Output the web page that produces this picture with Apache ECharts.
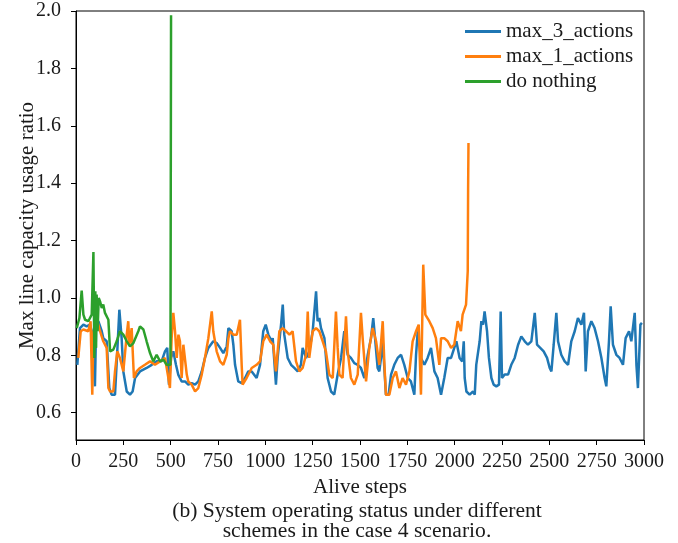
<!DOCTYPE html>
<html><head><meta charset="utf-8">
<script src="https://cdn.jsdelivr.net/npm/echarts@6/dist/echarts.min.js"></script>
<style>html,body{margin:0;padding:0;background:#fff}#c{width:678px;height:543px}</style>
</head><body><div id="c"></div>
<script>
const xTicks = [0,250,500,750,1000,1250,1500,1750,2000,2250,2500,2750,3000];
const yTicks = [0.6,0.8,1.0,1.2,1.4,1.6,1.8,2.0];
const seriesNames = ['max_3_actions','max_1_actions','do nothing'];

const max3Steps = [7,21,39,56,74,88,100,106,118,136,144,162,176,188,206,218,229,241,250,268,285,299,312,338,373,400,426,452,470,482,491,502,514,528,540,558,576,593,611,629,646,664,681,699,725,743,761,778,796,805,822,831,840,857,875,893,910,928,954,972,989,1002,1016,1033,1039,1056,1065,1083,1092,1100,1118,1136,1153,1171,1188,1197,1215,1232,1250,1259,1268,1276,1285,1294,1312,1329,1347,1364,1382,1400,1417,1435,1452,1470,1488,1505,1523,1541,1558,1570,1581,1593,1602,1611,1620,1637,1651,1664,1681,1699,1717,1734,1752,1769,1787,1796,1805,1822,1840,1857,1875,1893,1910,1928,1945,1963,1981,2009,2026,2040,2048,2053,2062,2079,2097,2106,2114,2123,2132,2141,2150,2158,2171,2181,2194,2206,2220,2234,2243,2250,2264,2282,2299,2317,2335,2352,2370,2387,2405,2423,2435,2452,2470,2488,2502,2511,2523,2537,2546,2563,2581,2599,2616,2634,2651,2669,2683,2692,2704,2722,2739,2757,2775,2792,2801,2815,2824,2836,2854,2871,2889,2903,2921,2933,2951,2960,2968,2981,2989];
const max3Values = [0.767,0.895,0.907,0.901,0.907,0.872,0.692,0.895,0.919,0.884,0.860,0.849,0.686,0.663,0.663,0.814,0.959,0.860,0.744,0.674,0.663,0.674,0.721,0.744,0.756,0.767,0.779,0.779,0.814,0.826,0.698,0.791,0.814,0.767,0.733,0.709,0.709,0.698,0.703,0.698,0.709,0.744,0.791,0.826,0.849,0.843,0.826,0.808,0.831,0.895,0.884,0.837,0.767,0.709,0.703,0.721,0.744,0.744,0.721,0.767,0.884,0.907,0.872,0.849,0.860,0.698,0.791,0.907,0.977,0.872,0.791,0.767,0.756,0.744,0.767,0.826,0.791,0.814,0.884,0.953,1.023,0.919,0.930,0.895,0.860,0.721,0.674,0.663,0.733,0.791,0.884,0.802,0.791,0.773,0.767,0.756,0.721,0.802,0.860,0.930,0.849,0.756,0.744,0.791,0.849,0.663,0.663,0.733,0.767,0.791,0.802,0.767,0.721,0.709,0.663,0.802,0.884,0.791,0.767,0.791,0.826,0.744,0.721,0.663,0.721,0.791,0.791,0.849,0.791,0.779,0.849,0.721,0.674,0.663,0.674,0.663,0.767,0.767,0.849,0.919,0.907,0.953,0.884,0.791,0.721,0.698,0.692,0.698,0.953,0.721,0.733,0.733,0.767,0.791,0.837,0.866,0.849,0.837,0.849,0.948,0.837,0.826,0.814,0.791,0.756,0.744,0.837,0.948,0.849,0.802,0.779,0.767,0.849,0.884,0.930,0.907,0.948,0.744,0.884,0.919,0.895,0.849,0.791,0.721,0.692,0.849,0.971,0.837,0.802,0.791,0.767,0.860,0.884,0.849,0.948,0.767,0.686,0.907,0.913];

const max1Steps = [12,25,39,65,77,86,92,100,113,127,144,162,171,180,197,206,218,232,250,268,276,282,294,306,320,338,364,391,417,444,470,488,496,505,514,523,532,541,549,558,567,576,585,593,611,629,646,664,681,699,717,725,743,761,778,796,805,813,831,849,866,875,880,901,928,954,972,989,1007,1025,1042,1056,1074,1092,1109,1127,1144,1162,1180,1197,1215,1224,1232,1250,1268,1285,1303,1320,1338,1356,1373,1382,1391,1408,1426,1435,1452,1470,1488,1505,1514,1532,1549,1567,1585,1602,1620,1629,1637,1655,1673,1690,1708,1725,1743,1761,1778,1796,1810,1822,1834,1845,1866,1884,1901,1919,1928,1945,1963,1981,1998,2016,2033,2042,2060,2069,2071,2073];
const max1Values = [0.791,0.884,0.890,0.884,0.919,0.663,0.884,0.895,0.919,0.884,0.849,0.826,0.686,0.674,0.674,0.744,0.814,0.791,0.744,0.872,0.919,0.837,0.895,0.721,0.744,0.756,0.767,0.779,0.767,0.779,0.791,0.721,0.686,0.860,0.948,0.884,0.791,0.872,0.849,0.721,0.837,0.831,0.733,0.709,0.698,0.674,0.686,0.733,0.791,0.860,0.953,0.884,0.814,0.779,0.767,0.802,0.860,0.884,0.872,0.872,0.924,0.767,0.698,0.721,0.756,0.767,0.779,0.849,0.872,0.849,0.837,0.744,0.884,0.895,0.884,0.872,0.884,0.779,0.744,0.756,0.802,0.953,0.791,0.884,0.895,0.884,0.849,0.814,0.733,0.721,0.953,0.826,0.733,0.721,0.936,0.814,0.721,0.698,0.733,0.948,0.860,0.709,0.826,0.895,0.849,0.767,0.919,0.767,0.663,0.663,0.721,0.744,0.686,0.721,0.698,0.744,0.849,0.884,0.907,0.663,1.116,0.942,0.919,0.895,0.860,0.767,0.860,0.860,0.849,0.826,0.837,0.919,0.884,0.942,0.977,1.093,1.38,1.54];

const nothingSteps = [4,18,30,39,48,65,83,92,97,102,106,109,114,120,127,136,144,153,162,171,180,197,215,232,250,268,285,303,329,338,356,373,391,408,426,444,461,479,488,499,502];
const nothingValues = [0.895,0.930,1.026,0.942,0.924,0.919,0.942,1.160,0.791,1.023,0.826,1.012,0.884,1.0,0.988,0.965,0.977,0.948,0.953,0.924,0.814,0.820,0.849,0.884,0.872,0.849,0.831,0.843,0.884,0.901,0.890,0.849,0.808,0.779,0.802,0.779,0.785,0.767,0.773,0.767,1.985];

const zip = (a,b) => a.map((v,i) => [v,b[i]]);
const font = 'Liberation Serif';
const txt = '#1a1a1a';

const chart = echarts.init(document.getElementById('c'), null, {renderer:'canvas'});
chart.setOption({
  animation:false,
  backgroundColor:'#fff',
  grid:{left:76,right:34,top:11,bottom:103,show:true,borderColor:'#000',borderWidth:1,backgroundColor:'transparent'},
  legend:{
    data:seriesNames, orient:'vertical', left:465, top:21, padding:0, itemGap:4,
    itemWidth:36, itemHeight:3, icon:'rect',
    textStyle:{fontFamily:font,fontSize:21,color:txt,lineHeight:20}
  },
  xAxis:{
    type:'value', min:0, max:3000, interval:250,
    name:'Alive steps', nameLocation:'middle', nameGap:37, nameMoveOverlap:false,
    nameTextStyle:{fontFamily:font,fontSize:21,color:txt},
    axisLine:{show:true,lineStyle:{color:'#000',width:1}},
    axisTick:{show:true,inside:false,length:5,lineStyle:{color:'#000'}},
    axisLabel:{fontFamily:font,fontSize:20,color:txt,margin:12,
      customValues:xTicks, formatter:v=>String(v)},
    splitLine:{show:false}
  },
  yAxis:{
    type:'value', min:0.505, max:2.0,
    name:'Max line capacity usage ratio', nameLocation:'middle', nameGap:38, nameMoveOverlap:false,
    nameTextStyle:{fontFamily:font,fontSize:21,color:txt},
    axisLine:{show:true,lineStyle:{color:'#000',width:1}},
    axisTick:{show:true,inside:false,length:5,lineStyle:{color:'#000'},customValues:yTicks},
    axisLabel:{fontFamily:font,fontSize:20,color:txt,margin:15,customValues:yTicks,
      formatter:v=>v.toFixed(1)},
    splitLine:{show:false}
  },
  series:[
    {name:seriesNames[0],type:'line',data:zip(max3Steps,max3Values),showSymbol:false,symbol:'none',
     lineStyle:{color:'#1f77b4',width:2.5},itemStyle:{color:'#1f77b4'}},
    {name:seriesNames[1],type:'line',data:zip(max1Steps,max1Values),showSymbol:false,symbol:'none',
     lineStyle:{color:'#ff7f0e',width:2.5},itemStyle:{color:'#ff7f0e'}},
    {name:seriesNames[2],type:'line',data:zip(nothingSteps,nothingValues),showSymbol:false,symbol:'none',
     lineStyle:{color:'#2ca02c',width:2.5},itemStyle:{color:'#2ca02c'}}
  ],
  graphic:[
    {type:'text',x:357,y:500,style:{text:'(b) System operating status under different',fontFamily:font,fontSize:21.6,fill:txt,textAlign:'center'}},
    {type:'text',x:357,y:520,style:{text:'schemes in the case 4 scenario.',fontFamily:font,fontSize:21.6,fill:txt,textAlign:'center'}}
  ]
});
</script></body></html>
